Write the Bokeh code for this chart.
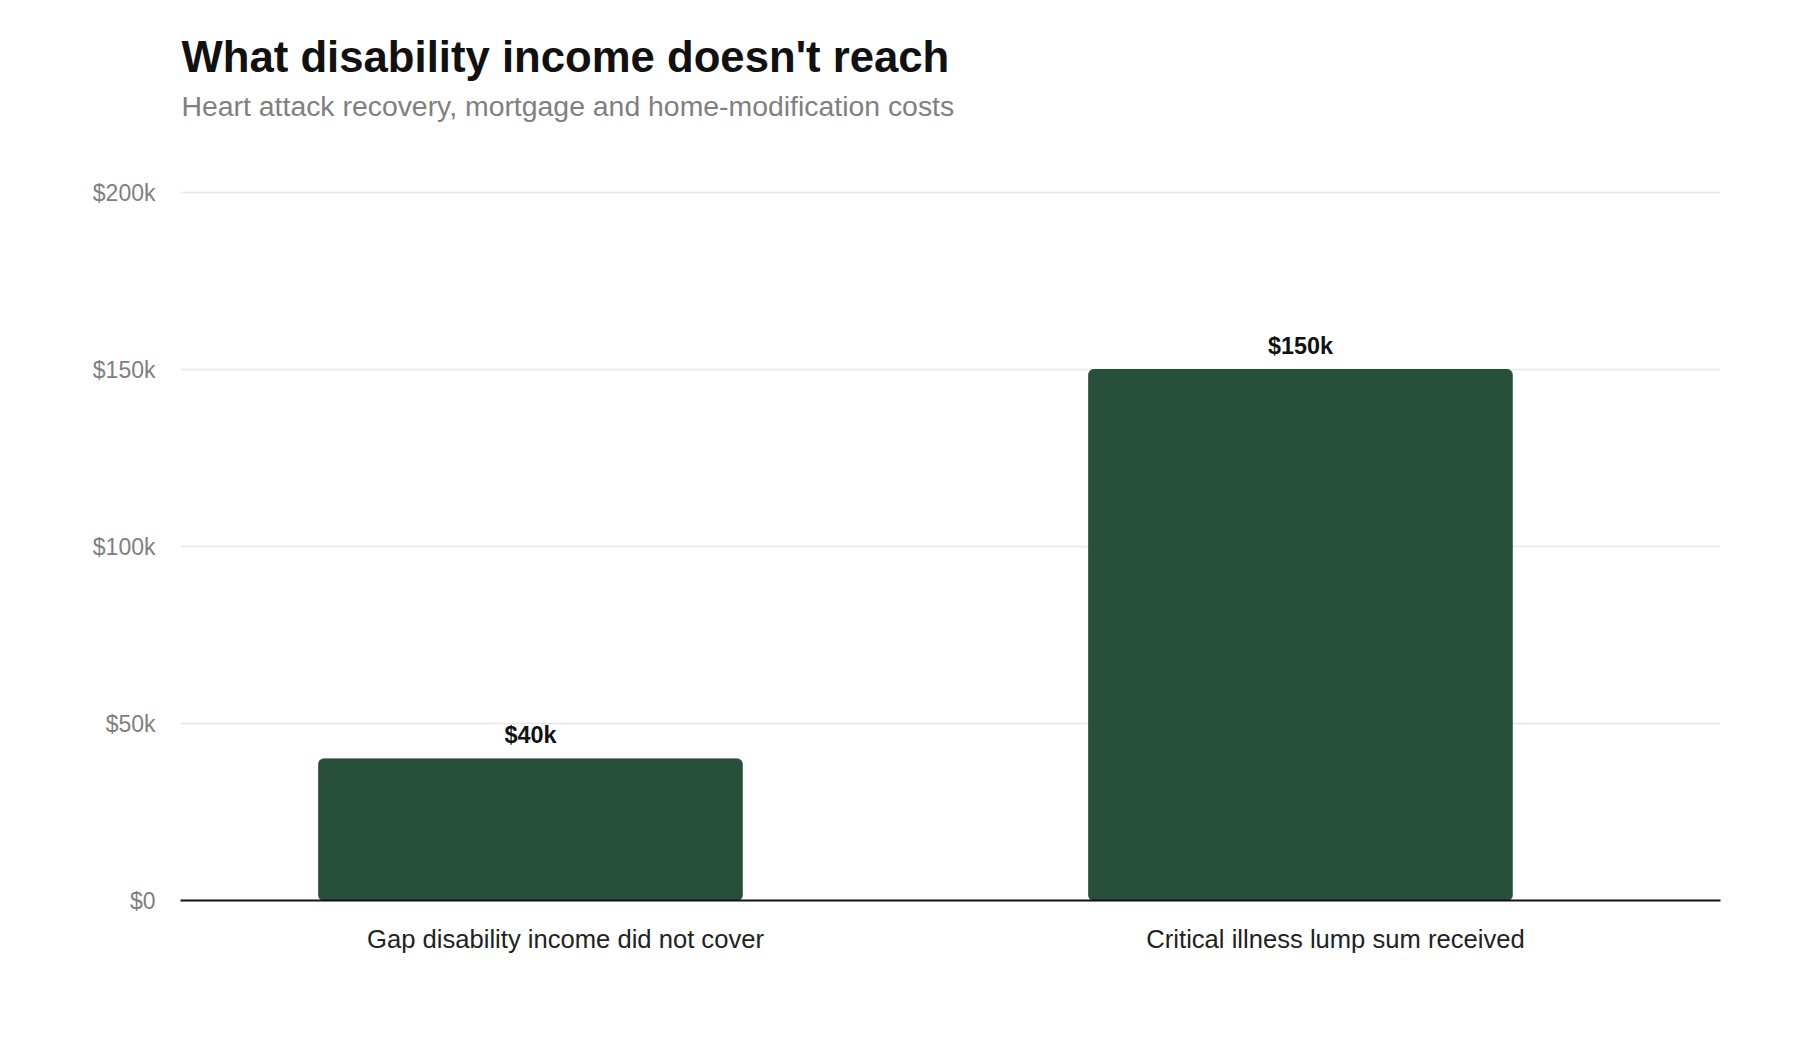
from bokeh.plotting import figure
from bokeh.models import ColumnDataSource, FixedTicker, Range1d, Label
from bokeh.transform import dodge
from bokeh.core.properties import value
from bokeh.embed import file_html
from bokeh.resources import INLINE

# ---- data ----
categories = ["Gap disability income did not cover", "Critical illness lump sum received"]
amounts = [40000, 150000]
bar_labels = ["$40k", "$150k"]
y_ticks = [0, 50000, 100000, 150000, 200000]
y_tick_labels = ["$0", "$50k", "$100k", "$150k", "$200k"]

title_text = "What disability income doesn't reach"
subtitle_text = "Heart attack recovery, mortgage and home-modification costs"

FONT = "Liberation Sans"
BAR_COLOR = "#284f3c"

# layout (pixels)
FRAME_BOTTOM = 900
FRAME_TOP_VALUE_PX = 192  # where $200k sits
y_top = y_ticks[-1] * FRAME_BOTTOM / (FRAME_BOTTOM - FRAME_TOP_VALUE_PX)

src = ColumnDataSource(dict(cat=categories, amt=amounts, lab=bar_labels))

p = figure(
    x_range=categories,
    y_range=Range1d(0, y_top),
    width=1784, height=1024, title=None,
    output_backend="svg", toolbar_location=None,
    min_border_left=180, min_border_right=64,
    min_border_top=0, min_border_bottom=1024 - FRAME_BOTTOM,
)
p.x_range.range_padding = 0
p.outline_line_color = None
p.background_fill_color = "white"
p.border_fill_color = "white"

xpos = dodge("cat", -0.0455, range=p.x_range)
p.vbar(x=xpos, top="amt", bottom=0, width=0.55, source=src,
       fill_color=BAR_COLOR, line_color=BAR_COLOR, line_width=1, border_radius=5)

p.text(x=xpos, y="amt", text="lab", source=src, y_offset=-24,
       text_align="center", text_baseline="alphabetic",
       text_font=value(FONT), text_font_style="bold",
       text_font_size="23.4px", text_color="#111111")

# axes
ticker = FixedTicker(ticks=y_ticks)
p.yaxis.ticker = ticker
p.yaxis.major_label_overrides = {t: l for t, l in zip(y_ticks, y_tick_labels)}
p.yaxis.axis_line_color = None
p.yaxis.major_tick_line_color = None
p.yaxis.minor_tick_line_color = None
p.yaxis.major_tick_in = 0
p.yaxis.major_tick_out = 0
p.yaxis.major_label_standoff = 25
p.yaxis.major_label_text_font = FONT
p.yaxis.major_label_text_font_size = "23px"
p.yaxis.major_label_text_color = "#808080"

p.xaxis.axis_line_color = "#111111"
p.xaxis.axis_line_width = 2
p.xaxis.major_tick_line_color = None
p.xaxis.minor_tick_line_color = None
p.xaxis.major_tick_in = 0
p.xaxis.major_tick_out = 0
p.xaxis.major_label_standoff = 24
p.xaxis.major_label_text_font = FONT
p.xaxis.major_label_text_font_size = "25.6px"
p.xaxis.major_label_text_color = "#222222"

p.xgrid.visible = False
p.ygrid.ticker = ticker
p.ygrid.grid_line_color = "#e6e6e6"
p.ygrid.grid_line_width = 1.5

# titles (screen units measured from frame's bottom-left)
p.add_layout(Label(x=1, y=FRAME_BOTTOM - 56, x_units="screen", y_units="screen", text=title_text,
                   text_font=FONT, text_font_style="bold", text_font_size="43.7px",
                   text_color="#111111", text_baseline="alphabetic", text_align="left"))
p.add_layout(Label(x=1, y=FRAME_BOTTOM - 105, x_units="screen", y_units="screen", text=subtitle_text,
                   text_font=FONT, text_font_size="28.4px",
                   text_color="#808080", text_baseline="alphabetic", text_align="left"))

open("out.html", "w").write(file_html(p, INLINE))
